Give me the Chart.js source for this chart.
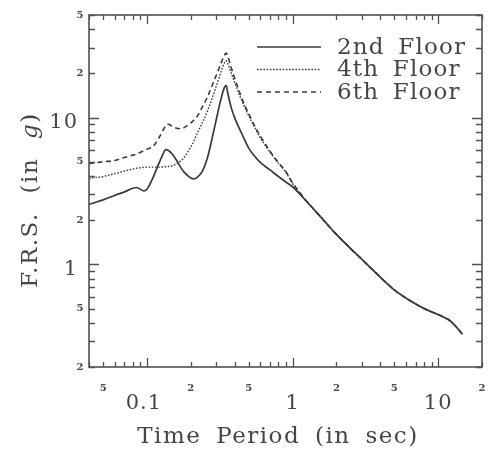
<!DOCTYPE html>
<html>
<head>
<meta charset="utf-8">
<script src="https://cdn.jsdelivr.net/npm/chart.js@4.4.1/dist/chart.umd.min.js"></script>
<style>
html,body{margin:0;padding:0;background:#ffffff;}
#wrap{width:489px;height:457px;position:relative;}
</style>
</head>
<body>
<div id="wrap"><canvas id="c" width="489" height="457"></canvas></div>
<script>
// ---------- data ----------
const periods = [0.04, 0.05, 0.06, 0.07, 0.08, 0.085, 0.095, 0.1, 0.11, 0.12, 0.13, 0.134, 0.14, 0.15, 0.16, 0.17, 0.18, 0.2, 0.21, 0.22, 0.24, 0.26, 0.28, 0.3, 0.32, 0.34, 0.35, 0.36, 0.38, 0.4, 0.45, 0.5, 0.55, 0.6, 0.7, 0.8, 0.9, 1.0, 1.2, 1.5, 2, 3, 4, 5, 6, 8, 10, 11.3, 12, 13, 14.7];

const floor2 = [2.56, 2.75, 2.95, 3.12, 3.3, 3.34, 3.17, 3.25, 3.9, 4.8, 5.75, 6.05, 6.0, 5.6, 5.1, 4.6, 4.25, 3.88, 3.83, 3.9, 4.3, 5.3, 7.2, 9.8, 13, 16, 16.5, 14.5, 11.6, 10.0, 7.7, 6.2, 5.45, 4.95, 4.4, 3.97, 3.64, 3.38, 2.8, 2.2, 1.6, 1.08, 0.82, 0.67, 0.59, 0.5, 0.455, 0.43, 0.415, 0.385, 0.334];

const floor4 = [3.85, 3.97, 4.15, 4.32, 4.47, 4.52, 4.58, 4.6, 4.6, 4.6, 4.62, 4.63, 4.64, 4.7, 4.85, 5.05, 5.35, 6.3, 6.9, 7.7, 9.2, 11, 13.5, 16.5, 20, 23.5, 24.4, 23.2, 20, 17.4, 12.9, 10.3, 8.55, 7.3, 5.8, 4.88, 4.25, 3.55, 2.82, 2.2, 1.6, 1.08, 0.82, 0.67, 0.59, 0.5, 0.455, 0.43, 0.415, 0.385, 0.334];

const floor6 = [4.86, 5.0, 5.1, 5.35, 5.55, 5.65, 5.95, 6.1, 6.35, 7.2, 8.3, 8.8, 9.0, 8.7, 8.45, 8.4, 8.55, 9.2, 9.6, 10.1, 11.8, 13.8, 16.5, 19.5, 23, 26.5, 27.5, 26, 21.8, 18.6, 13.4, 10.6, 8.75, 7.5, 5.9, 4.93, 4.28, 3.6, 2.83, 2.2, 1.6, 1.08, 0.82, 0.67, 0.59, 0.5, 0.455, 0.43, 0.415, 0.385, 0.334];

const seriesNames = ['2nd Floor', '4th Floor', '6th Floor'];

// axis ranges and tick labels
const xRange = [0.04, 20];
const yRange = [0.2, 50];
const xLabelValues = [0.05, 0.1, 0.2, 0.5, 1, 2, 5, 10, 20];
const xLabelTexts  = ['5', '0.1', '2', '5', '1', '2', '5', '10', '2'];
const yLabelValues = [0.2, 0.5, 1, 2, 5, 10, 20, 50];
const yLabelTexts  = ['2', '5', '1', '2', '5', '10', '2', '5'];
const xTitle = 'Time Period (in sec)';
const yTitleParts = ['F.R.S. (in ', 'g', ')'];

// ---------- helpers ----------
function logTicks(min, max) {
  const out = [];
  for (let e = -3; e <= 3; e++) {
    for (let m = 1; m <= 9; m++) {
      const v = +(m * Math.pow(10, e)).toPrecision(3);
      if (v >= min * 0.999 && v <= max * 1.001) out.push({ v, major: m === 1 });
    }
  }
  return out;
}
function isMajorVal(v) {
  const l = Math.log10(v);
  return Math.abs(l - Math.round(l)) < 1e-6;
}

const INK = '#3a3a3a';
const TXT = '#454545';
const SERIF = '"DejaVu Serif", "Liberation Serif", serif';

function spaced(ctx, ls, ws) {
  try { ctx.letterSpacing = ls + 'px'; } catch (e) {}
  try { ctx.wordSpacing = ws + 'px'; } catch (e) {}
}

const framePlugin = {
  id: 'framePlugin',
  afterDraw(chart) {
    const ctx = chart.ctx;
    const a = chart.chartArea;
    const xs = chart.scales.x, ys = chart.scales.y;
    ctx.save();
    // frame
    ctx.strokeStyle = '#505050';
    ctx.lineWidth = 1.6;
    ctx.strokeRect(a.left, a.top, a.right - a.left, a.bottom - a.top);
    // ticks (inward, all four sides)
    ctx.lineWidth = 1.3;
    ctx.beginPath();
    logTicks(xRange[0], xRange[1]).forEach(t => {
      const px = Math.round(xs.getPixelForValue(t.v)) + 0.5;
      const len = t.major ? 9 : 5;
      ctx.moveTo(px, a.bottom); ctx.lineTo(px, a.bottom - len);
      ctx.moveTo(px, a.top); ctx.lineTo(px, a.top + len);
    });
    logTicks(yRange[0], yRange[1]).forEach(t => {
      const py = Math.round(ys.getPixelForValue(t.v)) + 0.5;
      const len = t.major ? 10 : 6;
      ctx.moveTo(a.left, py); ctx.lineTo(a.left + len, py);
      ctx.moveTo(a.right, py); ctx.lineTo(a.right - len, py);
    });
    ctx.stroke();

    // x tick labels
    ctx.fillStyle = TXT;
    ctx.textAlign = 'center';
    ctx.textBaseline = 'middle';
    xLabelValues.forEach((v, i) => {
      const px = xs.getPixelForValue(v);
      if (isMajorVal(v)) {
        ctx.font = '21px ' + SERIF; spaced(ctx, 1, 0);
        ctx.fillText(xLabelTexts[i], px - (v < 1 ? 3 : 0), a.bottom + 37);
      } else {
        ctx.font = 'bold 10px ' + SERIF; spaced(ctx, 0, 0);
        ctx.fillText(xLabelTexts[i], px, a.bottom + 21);
      }
    });
    // y tick labels
    yLabelValues.forEach((v, i) => {
      const py = ys.getPixelForValue(v);
      if (isMajorVal(v)) {
        ctx.font = '21px ' + SERIF; spaced(ctx, 1, 0);
        ctx.textAlign = 'right';
        ctx.fillText(yLabelTexts[i], a.left - 11, py + 5);
      } else {
        ctx.font = 'bold 10px ' + SERIF; spaced(ctx, 0, 0);
        ctx.textAlign = 'center';
        ctx.fillText(yLabelTexts[i], a.left - 9, py);
      }
    });

    // x title
    ctx.font = '23px ' + SERIF; spaced(ctx, 1.5, 6);
    ctx.textAlign = 'center';
    ctx.textBaseline = 'alphabetic';
    ctx.fillText(xTitle, 278, 443);

    // y title (rotated, italic g)
    ctx.save();
    ctx.translate(37, 200);
    ctx.rotate(-Math.PI / 2);
    const fonts = ['23px ' + SERIF, 'italic 23px ' + SERIF, '23px ' + SERIF];
    let total = 0; const widths = [];
    yTitleParts.forEach((s, i) => { ctx.font = fonts[i]; spaced(ctx, 1.5, 10); const w = ctx.measureText(s).width; widths.push(w); total += w; });
    let x0 = -total / 2;
    ctx.textAlign = 'left';
    yTitleParts.forEach((s, i) => { ctx.font = fonts[i]; spaced(ctx, 1.5, 10); ctx.fillText(s, x0, 0); x0 += widths[i]; });
    ctx.restore();

    // legend (uses dataset styles)
    const rows = [47, 69.5, 92];
    chart.data.datasets.forEach((ds, i) => {
      const y = rows[i];
      ctx.save();
      ctx.strokeStyle = ds.borderColor;
      ctx.lineWidth = ds.borderWidth;
      ctx.setLineDash(ds.legendDash || ds.borderDash || []);
      ctx.beginPath();
      ctx.moveTo(257, y); ctx.lineTo(321, y);
      ctx.stroke();
      ctx.restore();
      ctx.fillStyle = TXT;
      ctx.font = '23px ' + SERIF; spaced(ctx, 1.2, 5);
      ctx.textAlign = 'left';
      ctx.textBaseline = 'middle';
      ctx.fillText(ds.label, 337, y + 1);
    });
    spaced(ctx, 0, 0);
    ctx.restore();
  }
};

function pts(vals) { return periods.map((t, i) => ({ x: t, y: vals[i] })); }

new Chart(document.getElementById('c'), {
  type: 'line',
  data: {
    datasets: [
      { label: seriesNames[0], data: pts(floor2), borderColor: INK, borderWidth: 1.7, borderDash: [], pointRadius: 0, cubicInterpolationMode: 'monotone', fill: false },
      { label: seriesNames[1], data: pts(floor4), borderColor: INK, borderWidth: 1.4, borderDash: [1.6, 1.6], pointRadius: 0, cubicInterpolationMode: 'monotone', fill: false },
      { label: seriesNames[2], data: pts(floor6), borderColor: INK, borderWidth: 1.6, borderDash: [5, 3.5], legendDash: [5, 4], pointRadius: 0, cubicInterpolationMode: 'monotone', fill: false }
    ]
  },
  options: {
    responsive: false,
    animation: false,
    devicePixelRatio: 1,
    layout: { padding: { left: 89, top: 15, right: 7, bottom: 90 } },
    plugins: { legend: { display: false }, tooltip: { enabled: false }, title: { display: false } },
    scales: {
      x: {
        type: 'logarithmic', min: xRange[0], max: xRange[1],
        ticks: { display: false },
        grid: { display: false, drawTicks: false },
        border: { display: false },
        title: { display: false }
      },
      y: {
        type: 'logarithmic', min: yRange[0], max: yRange[1],
        ticks: { display: false },
        grid: { display: false, drawTicks: false },
        border: { display: false },
        title: { display: false }
      }
    }
  },
  plugins: [framePlugin]
});
</script>
</body>
</html>
